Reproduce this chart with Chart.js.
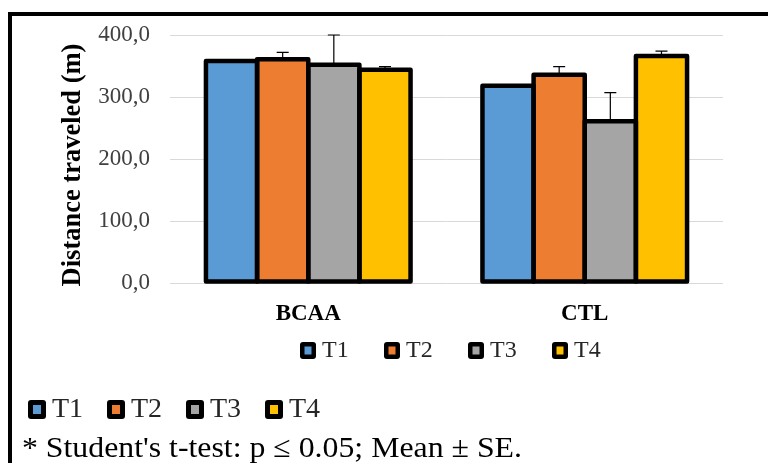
<!DOCTYPE html>
<html>
<head>
<meta charset="utf-8">
<script src="https://cdn.jsdelivr.net/npm/chart.js@4/dist/chart.umd.min.js"></script>
<style>
  html, body { margin: 0; padding: 0; background: #ffffff; }
  #wrap { position: relative; width: 768px; height: 463px; }
  canvas { display: block; }
</style>
</head>
<body>
<div id="wrap"><canvas id="c" width="768" height="463"></canvas></div>
<script>
// Groups on the x axis and the four sessions
const categories = ['BCAA', 'CTL'];
const seriesNames = ['T1', 'T2', 'T3', 'T4'];

// Mean distance travelled (m) per group, one array per session
const t1Mean = [358, 318];
const t2Mean = [361, 336];
const t3Mean = [352, 261];
const t4Mean = [344, 366];

// Standard error of each mean (drawn upward only)
const t1Se = [1.5, 1.5];
const t2Se = [11, 13];
const t3Se = [48, 46];
const t4Se = [5, 8];

// Y axis ticks
const yTickValues = [0, 100, 200, 300, 400];
const yTitle = 'Distance traveled (m)';
const footnote = "* Student's t-test: p \u2264 0.05; Mean \u00b1 SE.";

const seriesColors = ['#5B9BD5', '#ED7D31', '#A5A5A5', '#FFC000'];
const means = [t1Mean, t2Mean, t3Mean, t4Mean];
const errors = [t1Se, t2Se, t3Se, t4Se];

const SERIF = '"Liberation Serif", "Times New Roman", serif';

function legendRow(ctx, chart, startX, step, cy, box, inner, font, gap) {
  chart.data.datasets.forEach((ds, i) => {
    const x = startX + i * step;
    const top = cy - box / 2;
    ctx.fillStyle = '#000';
    ctx.beginPath();
    ctx.roundRect(x, top, box, box + 1, 3);
    ctx.fill();
    ctx.fillStyle = ds.backgroundColor;
    ctx.fillRect(x + (box - inner) / 2, top + (box - inner) / 2, inner, inner + 1);
    ctx.fillStyle = '#262626';
    ctx.font = font;
    ctx.textAlign = 'left';
    ctx.textBaseline = 'middle';
    ctx.fillText(ds.label, x + box + gap, cy + 1);
  });
}

const decor = {
  id: 'decor',
  beforeDraw(chart) {
    const ctx = chart.ctx;
    ctx.save();
    ctx.fillStyle = '#000';
    ctx.fillRect(8, 12, 768 - 8, 4);
    ctx.fillRect(8, 12, 4, 463 - 12);
    ctx.restore();
  },
  afterDatasetsDraw(chart) {
    const ctx = chart.ctx;
    const yScale = chart.scales.y;
    ctx.save();
    // error bars (upper half)
    chart.data.datasets.forEach((ds, i) => {
      const meta = chart.getDatasetMeta(i);
      meta.data.forEach((bar, j) => {
        const p = bar.getProps(['x', 'y'], true);
        const yTop = yScale.getPixelForValue(ds.data[j] + errors[i][j]);
        ctx.strokeStyle = '#000';
        ctx.lineWidth = 1.2;
        ctx.beginPath();
        ctx.moveTo(p.x, p.y);
        ctx.lineTo(p.x, yTop);
        ctx.moveTo(p.x - 6, yTop);
        ctx.lineTo(p.x + 6, yTop);
        ctx.stroke();
      });
    });
    // thick outlines centred on the bar edges
    ctx.strokeStyle = '#000';
    ctx.lineWidth = 4.5;
    ctx.lineJoin = 'round';
    chart.data.datasets.forEach((ds, i) => {
      const meta = chart.getDatasetMeta(i);
      meta.data.forEach(bar => {
        const p = bar.getProps(['x', 'y', 'base', 'width'], true);
        ctx.strokeRect(p.x - p.width / 2, p.y, p.width, p.base - p.y - 1);
      });
    });
    ctx.restore();
  },
  afterDraw(chart) {
    const ctx = chart.ctx;
    ctx.save();
    // rotated axis title
    ctx.translate(73, 165);
    ctx.rotate(-Math.PI / 2);
    ctx.fillStyle = '#000';
    ctx.font = 'bold 26.5px ' + SERIF;
    ctx.textAlign = 'center';
    ctx.textBaseline = 'middle';
    ctx.fillText(yTitle, 0, 0);
    ctx.restore();

    ctx.save();
    legendRow(ctx, chart, 300, 84, 350, 16, 7, '24px ' + SERIF, 6);
    legendRow(ctx, chart, 28, 79, 409, 18, 8, '28px ' + SERIF, 6);
    ctx.restore();

    // footnote, set slightly wide
    ctx.save();
    ctx.translate(22, 457);
    ctx.scale(1.06, 1);
    ctx.fillStyle = '#000';
    ctx.font = '30px ' + SERIF;
    ctx.textAlign = 'left';
    ctx.textBaseline = 'alphabetic';
    ctx.fillText(footnote, 0, 0);
    ctx.restore();
  }
};

new Chart(document.getElementById('c'), {
  type: 'bar',
  data: {
    labels: categories,
    datasets: seriesNames.map((name, i) => ({
      label: name,
      data: means[i],
      backgroundColor: seriesColors[i],
      borderWidth: 0,
      categoryPercentage: 0.74,
      barPercentage: 1.0
    }))
  },
  options: {
    responsive: false,
    animation: false,
    devicePixelRatio: 1,
    layout: { padding: { top: 35, right: 45, bottom: 0, left: 0 } },
    plugins: { legend: { display: false }, tooltip: { enabled: false } },
    scales: {
      x: {
        grid: { display: false },
        border: { display: false },
        ticks: {
          color: '#000',
          padding: 9,
          font: { family: SERIF, size: 23, weight: 'bold' }
        },
        afterFit(s) { s.height = 463 - 283; }
      },
      y: {
        min: 0,
        max: 400,
        afterBuildTicks(s) { s.ticks = yTickValues.map(v => ({ value: v })); },
        grid: { color: '#d9d9d9', lineWidth: 1, drawTicks: false },
        border: { display: false },
        ticks: {
          color: '#404040',
          padding: 20,
          font: { family: SERIF, size: 23 },
          callback: v => v.toFixed(1).replace('.', ',')
        },
        afterFit(s) { s.width = 170; }
      }
    }
  },
  plugins: [decor]
});
</script>
</body>
</html>
